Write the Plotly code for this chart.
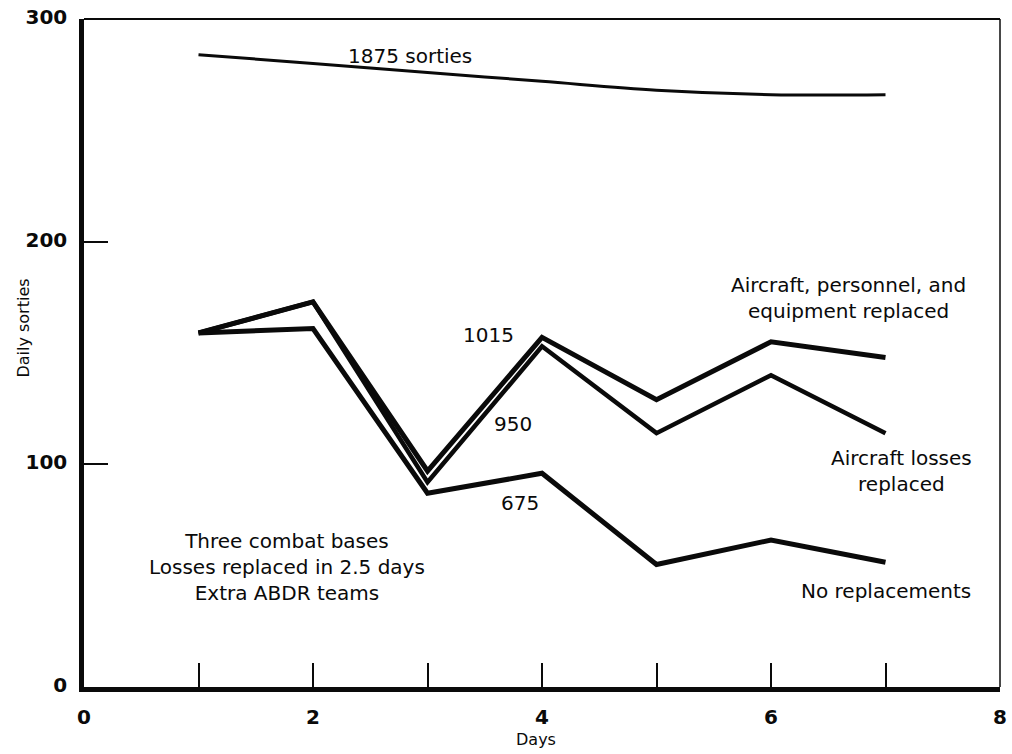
import plotly.graph_objects as go

days = [1, 2, 3, 4, 5, 6, 7]
sorties_1875 = [284, 280, 276, 272, 268, 266, 266]
sorties_1015 = [159, 173, 97, 157, 129, 155, 148]
sorties_950 = [159, 173, 92, 153, 114, 140, 114]
sorties_675 = [159, 161, 87, 96, 55, 66, 56]

x_tickvals = [0, 1, 2, 3, 4, 5, 6, 7, 8]
x_ticktext = ["0", "", "2", "", "4", "", "6", "", "8"]
y_tickvals = [0, 100, 200, 300]
y_ticktext = ["0", "100", "200", "300"]

FONT = "DejaVu Sans"
INK = "#0a0a0a"

fig = go.Figure()
fig.add_trace(go.Scatter(x=days, y=sorties_1875, mode="lines",
                         line=dict(color=INK, width=3, shape="spline", smoothing=1.0)))
fig.add_trace(go.Scatter(x=days, y=sorties_1015, mode="lines",
                         line=dict(color=INK, width=5)))
fig.add_trace(go.Scatter(x=days, y=sorties_950, mode="lines",
                         line=dict(color=INK, width=4.5)))
fig.add_trace(go.Scatter(x=days, y=sorties_675, mode="lines",
                         line=dict(color=INK, width=5)))

ann_font = dict(family=FONT, size=20, color=INK)
annotations = [
    dict(x=2.85, y=283.5, text="1875 sorties"),
    dict(x=3.53, y=158, text="1015"),
    dict(x=3.75, y=118, text="950"),
    dict(x=3.81, y=82.6, text="675"),
    dict(x=6.68, y=174.6, text="Aircraft, personnel, and<br>equipment replaced"),
    dict(x=7.14, y=96.9, text="Aircraft losses<br>replaced"),
    dict(x=7.00, y=43.3, text="No replacements"),
    dict(x=1.77, y=54, text="Three combat bases<br>Losses replaced in 2.5 days<br>Extra ABDR teams"),
]
for a in annotations:
    fig.add_annotation(x=a["x"], y=a["y"], text=a["text"], showarrow=False,
                       xref="x", yref="y", xanchor="center", yanchor="middle",
                       align="center", font=ann_font)

fig.add_annotation(text="Daily sorties", xref="paper", yref="paper",
                   x=(23 - 84) / 923, y=(687 - 326) / 672, textangle=-90,
                   showarrow=False, xanchor="center", yanchor="middle",
                   font=dict(family=FONT, size=16, color=INK))
fig.add_annotation(text="Days", xref="x", yref="paper",
                   x=3.95, y=(687 - 740) / 672, showarrow=False,
                   xanchor="center", yanchor="middle",
                   font=dict(family=FONT, size=16, color=INK))

# top and right frame lines (thin)
fig.add_shape(type="line", xref="paper", yref="paper", x0=0, x1=1, y0=1, y1=1,
              line=dict(color=INK, width=2))
fig.add_shape(type="line", xref="paper", yref="paper", x0=1, x1=1, y0=0, y1=1,
              line=dict(color=INK, width=1.5))

tick_font = dict(family=FONT, size=20, color=INK, weight="bold")
fig.update_xaxes(range=[0, 8], tickvals=x_tickvals, ticktext=x_ticktext,
                 ticks="inside", ticklen=24, tickwidth=2, tickcolor=INK,
                 showline=True, linewidth=4.5, linecolor=INK,
                 showgrid=False, zeroline=False, ticklabelstandoff=8,
                 ticklabeloverflow="allow",
                 tickfont=tick_font)
fig.update_yaxes(range=[0, 300], tickvals=y_tickvals, ticktext=y_ticktext,
                 ticks="inside", ticklen=24, tickwidth=2, tickcolor=INK,
                 showline=True, linewidth=4.5, linecolor=INK,
                 showgrid=False, zeroline=False, ticklabelstandoff=8,
                 ticklabelshift=-2, ticklabeloverflow="allow",
                 tickfont=tick_font)

fig.update_layout(width=1012, height=754, showlegend=False,
                  plot_bgcolor="white", paper_bgcolor="white",
                  margin=dict(l=84, r=5, t=15, b=67))

fig.write_html("out.html", config={"displayModeBar": False},
               post_script="document.body.style.margin='0';document.body.style.overflow='hidden';")
